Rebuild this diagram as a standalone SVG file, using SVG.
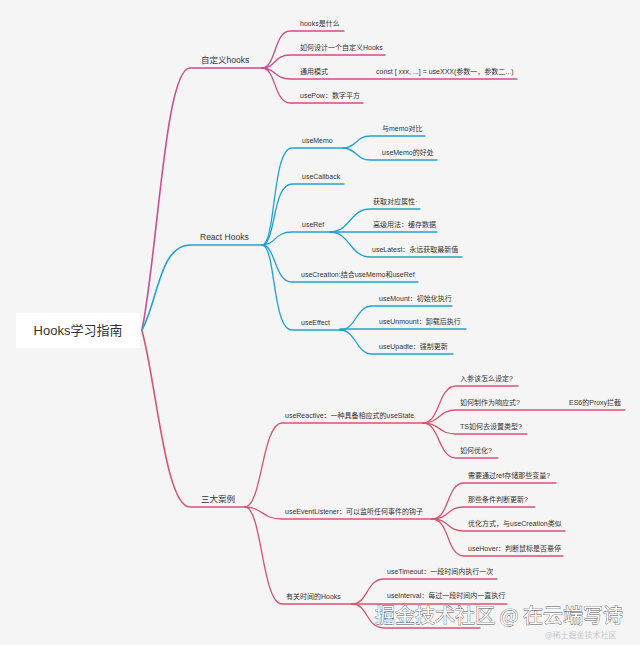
<svg xmlns="http://www.w3.org/2000/svg" width="640" height="645" viewBox="0 0 640 645">
<style>
text{font-family:"Liberation Sans","Noto Sans CJK SC",sans-serif;fill:#333}
.s{font-size:7px}
.m{font-size:8.5px}
.r{font-size:13px}
.c path{fill:none;stroke-linecap:round}
.p{stroke:#c94f8e}
.b{stroke:#21a3d2}
.d{stroke:#d65570}
.main{stroke-width:1.6}
.sub{stroke-width:1.3}
.wm{font-family:"Noto Sans CJK SC",sans-serif;font-size:20px;fill:#fff;stroke:#555;stroke-width:0.8;paint-order:stroke}
.wm2{font-family:"Noto Sans CJK SC",sans-serif;font-size:8px;fill:#c8c8c8}
</style>
<rect width="640" height="645" fill="#f5f5f5"/>
<g id="connectors" class="c">
  <path class="p main" d="M142,330 C158,250 165,68 190,68 H262"/>
  <path class="b main" d="M142,330 C158,300 160,245 190,245 H262"/>
  <path class="d main" d="M142,331 C156,380 165,507 190,507 H245"/>
  <path class="p sub" d="M262,68 C276,68 274,31 290,31 H344"/>
  <path class="p sub" d="M262,68 C276,68 274,55 290,55 H385"/>
  <path class="p sub" d="M262,68 C276,68 274,79 290,79 H517"/>
  <path class="p sub" d="M262,68 C276,68 274,103 290,103 H363"/>
  <path class="b sub" d="M262,245 C276,245 272,148 292,148 H343"/>
  <path class="b sub" d="M262,245 C276,245 272,184 292,184 H344"/>
  <path class="b sub" d="M262,245 C276,245 274,232 292,232 H330"/>
  <path class="b sub" d="M262,245 C276,245 274,282 292,282 H418"/>
  <path class="b sub" d="M262,245 C276,245 272,330 292,330 H340"/>
  <path class="b sub" d="M343,148 C356,148 356,136 370,136 H425"/>
  <path class="b sub" d="M343,148 C356,148 356,160 370,160 H437"/>
  <path class="b sub" d="M330,232 C350,232 350,209 370,209 H420"/>
  <path class="b sub" d="M330,232 H437"/>
  <path class="b sub" d="M330,232 C350,232 350,257 370,257 H462"/>
  <path class="b sub" d="M340,330 C356,330 356,306 372,306 H452"/>
  <path class="b sub" d="M340,329 H466"/>
  <path class="b sub" d="M340,330 C356,330 356,354 372,354 H453"/>
  <path class="d sub" d="M245,507 C262,507 262,423 282,423 H423"/>
  <path class="d sub" d="M245,507 C262,507 262,519 282,519 H432"/>
  <path class="d sub" d="M245,507 C262,507 262,604 282,604 H352"/>
  <path class="d sub" d="M423,423 C440,423 438,386 456,386 H518"/>
  <path class="d sub" d="M423,423 C440,423 438,410 456,410 H625"/>
  <path class="d sub" d="M423,423 C440,423 438,434 456,434 H527"/>
  <path class="d sub" d="M423,423 C440,423 438,458 456,458 H498"/>
  <path class="d sub" d="M432,519 C450,519 446,483 464,483 H556"/>
  <path class="d sub" d="M432,519 C450,519 446,507 464,507 H535"/>
  <path class="d sub" d="M432,519 C450,519 446,531 464,531 H565"/>
  <path class="d sub" d="M432,519 C450,519 446,556 464,556 H563"/>
  <path class="d sub" d="M352,604 C368,604 366,579 384,579 H497"/>
  <path class="d sub" d="M352,604 H507"/>
  <path class="d sub" d="M352,604 C368,604 366,628 384,628 H480"/>
</g>
<g id="root">
  <rect x="16" y="313" width="124" height="35" fill="#fff"/>
  <text class="r" x="78" y="335" text-anchor="middle">Hooks学习指南</text>
</g>
<g id="n-custom"><text class="m" x="201" y="63">自定义hooks</text></g>
<g id="n-what"><text class="s" x="300" y="26">hooks是什么</text></g>
<g id="n-design"><text class="s" x="300" y="50">如何设计一个自定义Hooks</text></g>
<g id="n-pattern"><text class="s" x="300" y="74">通用模式</text><text class="s" x="376" y="74">const [ xxx, ...] = useXXX(参数一，参数二...)</text></g>
<g id="n-pow"><text class="s" x="300" y="98">usePow：数字平方</text></g>
<g id="n-react"><text class="m" x="200" y="240">React Hooks</text></g>
<g id="n-usememo"><text class="s" x="302" y="143">useMemo</text></g>
<g id="n-memo-cmp"><text class="s" x="382" y="131">与memo对比</text></g>
<g id="n-memo-good"><text class="s" x="382" y="155">useMemo的好处</text></g>
<g id="n-callback"><text class="s" x="302" y="179">useCallback</text></g>
<g id="n-useref"><text class="s" x="302" y="227">useRef</text></g>
<g id="n-ref-attr"><text class="s" x="373" y="204">获取对应属性·</text></g>
<g id="n-ref-cache"><text class="s" x="373" y="227">高级用法：缓存数据</text></g>
<g id="n-ref-latest"><text class="s" x="372" y="252">useLatest：永远获取最新值</text></g>
<g id="n-creation"><text class="s" x="301" y="277">useCreation:结合useMemo和useRef</text></g>
<g id="n-effect"><text class="s" x="301" y="325">useEffect</text></g>
<g id="n-mount"><text class="s" x="379" y="301">useMount：初始化执行</text></g>
<g id="n-unmount"><text class="s" x="379" y="324">useUnmount：卸载后执行</text></g>
<g id="n-update"><text class="s" x="379" y="349">useUpadte：强制更新</text></g>
<g id="n-cases"><text class="m" x="201" y="502">三大案例</text></g>
<g id="n-reactive"><text class="s" x="285" y="418">useReactive：一种具备相应式的useState</text></g>
<g id="n-param"><text class="s" x="460" y="381">入参该怎么设定?</text></g>
<g id="n-resp"><text class="s" x="460" y="405">如何制作为响应式?</text><text class="s" x="569" y="405">ES6的Proxy拦截</text></g>
<g id="n-ts"><text class="s" x="460" y="429">TS如何去设置类型?</text></g>
<g id="n-opt"><text class="s" x="460" y="453">如何优化?</text></g>
<g id="n-event"><text class="s" x="285" y="514">useEventListener：可以监听任何事件的钩子</text></g>
<g id="n-ev-ref"><text class="s" x="468" y="478">需要通过ref存储那些变量?</text></g>
<g id="n-ev-cond"><text class="s" x="468" y="502">那些条件判断更新?</text></g>
<g id="n-ev-opt"><text class="s" x="468" y="526">优化方式，与useCreation类似</text></g>
<g id="n-hover"><text class="s" x="468" y="551">useHover：判断鼠标是否悬停</text></g>
<g id="n-time"><text class="s" x="286" y="599">有关时间的Hooks</text></g>
<g id="n-timeout"><text class="s" x="387" y="574">useTimeout：一段时间内执行一次</text></g>
<g id="n-interval"><text class="s" x="387" y="598">useInterval：每过一段时间内一直执行</text></g>
<g id="watermark">
  <text class="wm2" x="545" y="638">@稀土掘金技术社区</text>
  <text class="wm" x="375" y="623">掘金技术社区 @ 在云端写诗</text>
</g>
</svg>
